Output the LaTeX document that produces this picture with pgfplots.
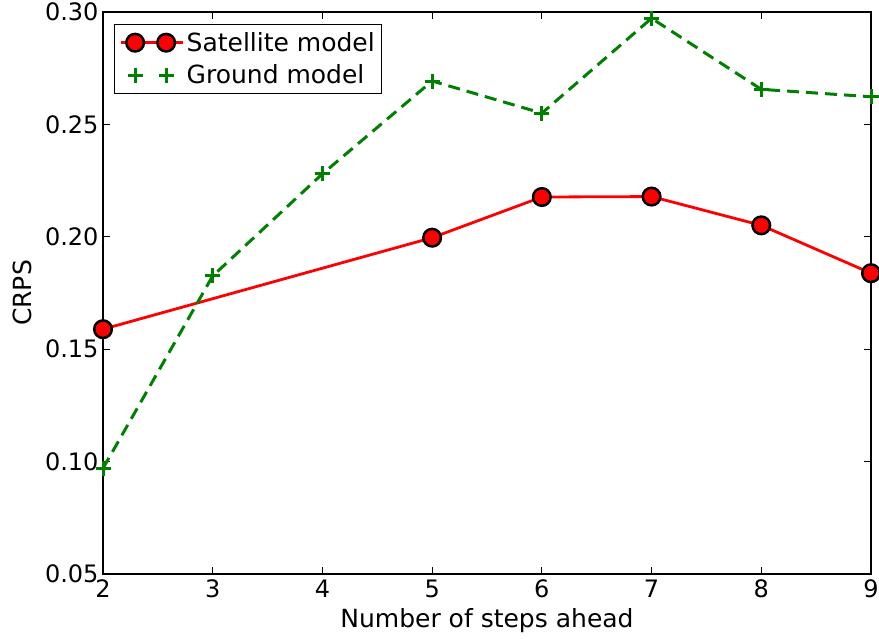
\documentclass[border=0pt]{standalone}
\usepackage{fontspec}
\setmainfont{DejaVu Sans}
\usepackage{pgfplots}
\pgfplotsset{compat=1.18}

\definecolor{mplgreen}{rgb}{0,0.5,0}

\begin{document}
\begin{tikzpicture}[x=1pt,y=1pt]
\useasboundingbox (0,0) rectangle (879,638);
\begin{axis}[
  at={(103pt,64pt)}, anchor=south west,
  scale only axis,
  width=768pt, height=562pt,
  xmin=2, xmax=9, ymin=0.05, ymax=0.30,
  xtick={2,3,4,5,6,7,8,9},
  ytick={0.05,0.10,0.15,0.20,0.25,0.30},
  yticklabel style={xshift=-1pt, /pgf/number format/.cd,fixed,fixed zerofill,precision=2},
  /pgf/number format/assume math mode=true,
  tick align=inside,
  major tick length=7pt,
  tick style={black, line width=1pt},
  axis line style={line width=1.5pt, black},
  ticklabel style={font=\fontsize{24}{28}\selectfont},
  xticklabel style={yshift=-2pt},
  label style={font=\fontsize{25}{29}\selectfont},
  xlabel={Number of steps ahead},
  ylabel={CRPS},
  xlabel style={at={(axis description cs:0.5,-0.083)}, anchor=center},
  ylabel style={at={(axis description cs:-0.105,0.5)}, anchor=center},
  clip=false,
  legend style={at={(axis description cs:0.0143,0.979)}, anchor=north west, draw=black, line width=1.3pt,
    font=\fontsize{25}{29}\selectfont, inner xsep=5pt, inner ysep=6pt,
    row sep=8pt, cells={anchor=west}},
  legend cell align=left,
  legend image code/.code={%
    \path (-14pt,0pt) -- (48pt,0pt);
    \draw[mark repeat=1,#1] plot coordinates {(0pt,0pt) (31pt,0pt)};},
]
\addplot[red, line width=2.8pt, mark=*, mark size=8.8pt,
  mark options={solid, fill=red, draw=black, line width=2.5pt}]
  coordinates {(2,0.1589) (5,0.1996) (6,0.2177) (7,0.2179) (8,0.2051) (9,0.1838)};
\addlegendentry{Satellite model}
\addplot[mplgreen, line width=3pt, dash pattern=on 12pt off 7pt, mark=+, mark size=7.5pt,
  mark options={solid, line width=3pt},
  legend image post style={dash pattern=on 0pt off 60pt, line cap=butt}]
  coordinates {(2,0.0970) (3,0.1826) (4,0.2280) (5,0.2693) (6,0.2550) (7,0.2972) (8,0.2656) (9,0.2623)};
\addlegendentry{Ground model}
\end{axis}
\end{tikzpicture}
\end{document}
